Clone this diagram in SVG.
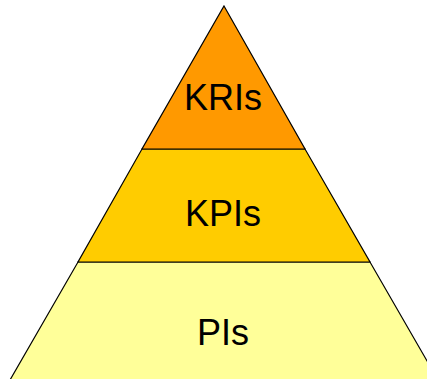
<svg xmlns="http://www.w3.org/2000/svg" width="427" height="379" viewBox="0 0 427 379">
<style>
.tier{stroke:#000;stroke-width:1.2;stroke-linejoin:miter}
.lbl{font-family:"Liberation Sans",Arial,sans-serif;font-size:36px;fill:#000;text-anchor:middle}
</style>
<rect width="427" height="379" fill="#fff"/>
<g id="pis">
<polygon class="tier" fill="#FFFF99" points="78,262 370,262 438,380 10,380"/>
<text class="lbl" x="223" y="345">PIs</text>
</g>
<g id="kpis">
<polygon class="tier" fill="#FFCC00" points="142,149 305,149 370,262 78,262"/>
<text class="lbl" x="223" y="226">KPIs</text>
</g>
<g id="kris">
<polygon class="tier" fill="#FF9900" points="224,6 305,149 142,149"/>
<text class="lbl" x="223" y="110">KRIs</text>
</g>
<g id="connectors"/>
</svg>
